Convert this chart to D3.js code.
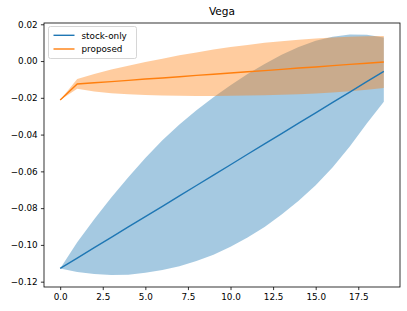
<!DOCTYPE html>
<html>
<head>
<meta charset="utf-8">
<script src="https://cdn.jsdelivr.net/npm/d3@7"></script>
<style>
  body { margin: 0; background: #fff; }
  text { font-family: "DejaVu Sans", sans-serif; fill: #000; }
</style>
</head>
<body>
<svg width="407" height="311"></svg>
<script>
const steps = d3.range(20);

const stockMean = [-0.1128, -0.1072, -0.1015, -0.0959, -0.0902, -0.0846, -0.0790, -0.0733, -0.0677, -0.0620,
  -0.0564, -0.0507, -0.0451, -0.0395, -0.0338, -0.0282, -0.0225, -0.0169, -0.0112, -0.0056];
const stockLow = [-0.1128, -0.1148, -0.1158, -0.1164, -0.1162, -0.1152, -0.1137, -0.1116, -0.1088, -0.1053,
  -0.1010, -0.0960, -0.0902, -0.0835, -0.0760, -0.0675, -0.0578, -0.0465, -0.0340, -0.0222];
const stockHigh = [-0.1128, -0.0985, -0.0860, -0.0742, -0.0632, -0.0527, -0.0431, -0.0345, -0.0268, -0.0197,
  -0.0132, -0.0071, -0.0016, 0.0034, 0.0077, 0.0110, 0.0132, 0.0144, 0.0143, 0.0128];

const propMean = [-0.0212, -0.0125, -0.0118, -0.0112, -0.0105, -0.0098, -0.0092, -0.0085, -0.0078, -0.0072,
  -0.0065, -0.0058, -0.0052, -0.0045, -0.0038, -0.0032, -0.0025, -0.0018, -0.0012, -0.0005];
const propLow = [-0.0212, -0.0150, -0.0165, -0.0175, -0.0181, -0.0185, -0.0188, -0.0189, -0.0190, -0.0190,
  -0.0189, -0.0188, -0.0186, -0.0183, -0.0180, -0.0176, -0.0171, -0.0164, -0.0156, -0.0146];
const propHigh = [-0.0212, -0.0097, -0.0070, -0.0046, -0.0025, -0.0005, 0.0013, 0.0031, 0.0047, 0.0063,
  0.0076, 0.0088, 0.0099, 0.0108, 0.0116, 0.0123, 0.0128, 0.0132, 0.0135, 0.0136];

const xTicks = [0, 2.5, 5, 7.5, 10, 12.5, 15, 17.5];
const yTicks = [-0.12, -0.10, -0.08, -0.06, -0.04, -0.02, 0.00, 0.02];

const series = [
  {name: 'stock-only', color: '#1f77b4', mean: stockMean, low: stockLow, high: stockHigh},
  {name: 'proposed', color: '#ff7f0e', mean: propMean, low: propLow, high: propHigh}
];

const svg = d3.select('svg');
const margin = {top: 23, right: 7, bottom: 24, left: 44};
const width = +svg.attr('width') - margin.left - margin.right;
const height = +svg.attr('height') - margin.top - margin.bottom;
const g = svg.append('g').attr('transform', `translate(${margin.left},${margin.top})`);

const x = d3.scaleLinear().domain([-0.95, 19.95]).range([0, width]);
const y = d3.scaleLinear().domain([-0.1229, 0.0207]).range([height, 0]);

const fmtY = v => d3.format('.2f')(v).replace('-', '\u2212');
const fmtX = d3.format('.1f');

const area = s => d3.area()
  .x(i => x(steps[i]))
  .y0(i => y(s.low[i]))
  .y1(i => y(s.high[i]))(steps);
const line = s => d3.line()
  .x(i => x(steps[i]))
  .y(i => y(s.mean[i]))(steps);

series.forEach(s => {
  g.append('path')
    .attr('d', area(s))
    .attr('fill', s.color)
    .attr('fill-opacity', 0.4);
});

series.forEach(s => {
  g.append('path')
    .attr('d', line(s))
    .attr('fill', 'none')
    .attr('stroke', s.color)
    .attr('stroke-width', 1.4);
});

const xAxis = g.append('g')
  .attr('transform', `translate(0,${height})`)
  .call(d3.axisBottom(x).tickValues(xTicks).tickFormat(fmtX).tickSize(3.1).tickPadding(3.5));
const yAxis = g.append('g')
  .call(d3.axisLeft(y).tickValues(yTicks).tickFormat(fmtY).tickSize(3.1).tickPadding(3.2));

[xAxis, yAxis].forEach(a => {
  a.select('.domain').remove();
  a.selectAll('line').attr('stroke', '#000').attr('stroke-width', 0.8);
  a.selectAll('text').attr('font-size', '8.8px').attr('font-family', '"DejaVu Sans", sans-serif');
});

g.append('rect')
  .attr('width', width)
  .attr('height', height)
  .attr('fill', 'none')
  .attr('stroke', '#000')
  .attr('stroke-width', 0.8);

svg.append('text')
  .attr('x', margin.left + width / 2)
  .attr('y', 15)
  .attr('text-anchor', 'middle')
  .attr('font-size', '10.6px')
  .text('Vega');

const legend = g.append('g').attr('transform', 'translate(4.5,3.5)');
legend.append('rect')
  .attr('width', 88)
  .attr('height', 32)
  .attr('rx', 2)
  .attr('fill', '#fff')
  .attr('fill-opacity', 0.8)
  .attr('stroke', '#ccc')
  .attr('stroke-width', 0.8);

series.forEach((s, i) => {
  const row = legend.append('g').attr('transform', `translate(0,${8.8 + i * 13.7})`);
  row.append('line')
    .attr('x1', 5).attr('x2', 26)
    .attr('stroke', s.color)
    .attr('stroke-width', 1.4);
  row.append('text')
    .attr('x', 33)
    .attr('y', 3.2)
    .attr('font-size', '8.8px')
    .text(s.name);
});
</script>
</body>
</html>
